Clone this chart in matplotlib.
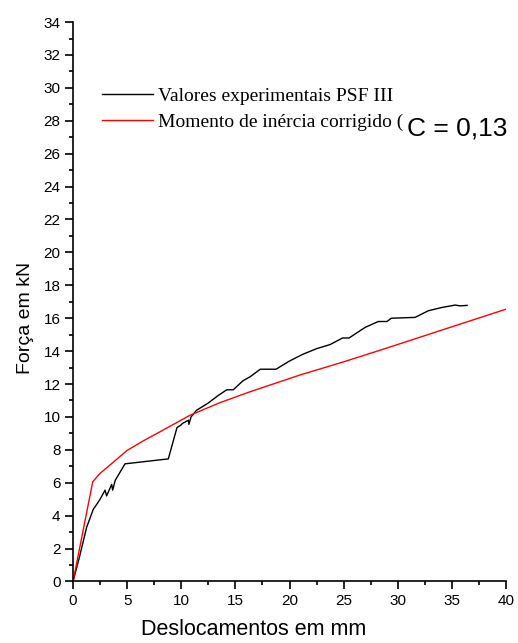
import matplotlib
matplotlib.use("Agg")
import matplotlib.pyplot as plt
from matplotlib.ticker import MultipleLocator

plt.rcParams['font.family'] = ['Liberation Sans', 'DejaVu Sans']

# Valores experimentais PSF III
desl_exp = [0.0, 0.6, 1.26, 1.88, 2.1, 2.5, 2.96, 3.1, 3.57, 3.66, 3.9, 4.8,
            8.8, 9.6, 9.95, 10.1, 10.65, 10.7, 10.9, 11.4, 12.5, 13.4, 14.2,
            14.8, 15.7, 16.35, 17.3, 18.75, 20.0, 21.2, 22.5, 23.75, 24.9,
            25.5, 27.0, 28.2, 29.0, 29.4, 31.6, 32.8, 34.05, 35.3, 35.75, 36.4]
forca_exp = [0.0, 1.5, 3.3, 4.4, 4.6, 5.0, 5.55, 5.2, 5.9, 5.55, 6.15, 7.15,
             7.45, 9.35, 9.5, 9.6, 9.8, 9.55, 10.0, 10.4, 10.85, 11.3, 11.65,
             11.65, 12.2, 12.44, 12.9, 12.9, 13.4, 13.8, 14.15, 14.4, 14.8,
             14.8, 15.45, 15.8, 15.8, 16.0, 16.05, 16.45, 16.65, 16.8, 16.75, 16.78]

# Momento de inércia corrigido
desl_mod = [0.0, 1.82, 2.5, 3.42, 4.96, 6.5, 8.04, 10.8, 13.5, 16.35,
            20.97, 25.0, 28.67, 35.0, 40.0]
forca_mod = [0.0, 6.06, 6.57, 7.08, 7.95, 8.55, 9.1, 10.1, 10.85, 11.53,
             12.55, 13.35, 14.12, 15.48, 16.55]

fig = plt.figure(figsize=(5.18, 6.43), dpi=100)
ax = fig.add_axes([0.141, 0.0957, 0.836, 0.870])

ax.plot(desl_exp, forca_exp, color='black', lw=1.0,
        label='Valores experimentais PSF III')
ax.plot(desl_mod, forca_mod, color='red', lw=1.0,
        label='Momento de inércia corrigido (')

ax.set_xlim(0, 40)
ax.set_ylim(0, 34)
ax.xaxis.set_major_locator(MultipleLocator(5))
ax.xaxis.set_minor_locator(MultipleLocator(2.5))
ax.yaxis.set_major_locator(MultipleLocator(2))
ax.yaxis.set_minor_locator(MultipleLocator(1))

for s in ['top', 'right']:
    ax.spines[s].set_visible(False)
for s in ['left', 'bottom']:
    ax.spines[s].set_linewidth(1.2)
ax.tick_params(which='major', direction='out', length=6, width=1.2,
               labelsize=11, pad=3)
ax.tick_params(which='minor', direction='out', length=3, width=1.2)

ax.set_xlabel('Deslocamentos em mm', fontsize=15.5)
ax.set_ylabel('Força em kN', fontsize=14)
ax.xaxis.set_label_coords(0.418, -0.067)
ax.yaxis.set_label_coords(-0.09, 0.471)

leg = ax.legend(loc='upper left', bbox_to_anchor=(0.067, 0.884), frameon=False,
                prop={'family': 'Liberation Serif', 'size': 14},
                borderpad=0, borderaxespad=0,
                handlelength=2.6, handletextpad=0.3, labelspacing=0.45)

ax.text(0.771, 0.798, 'C = 0,13', transform=ax.transAxes, fontsize=19,
        ha='left', va='baseline', zorder=10,
        bbox=dict(facecolor='white', edgecolor='none', pad=3))

fig.savefig('out.png', dpi=100)
